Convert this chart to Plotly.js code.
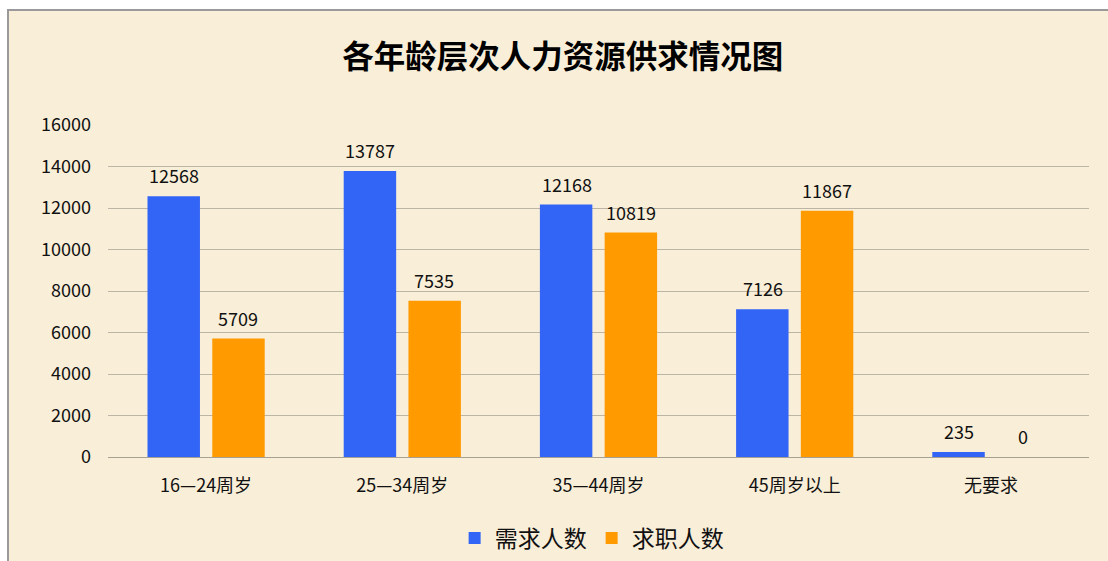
<!DOCTYPE html>
<html><head><meta charset="utf-8">
<script src="https://cdn.plot.ly/plotly-3.0.1.min.js"></script>
<style>
html,body{margin:0;padding:0;background:#fff;width:1108px;height:561px;overflow:hidden;}
#frame{position:absolute;left:7px;top:9px;width:1101px;height:552px;border-top:2px solid #9a9a9a;border-left:2px solid #9a9a9a;background:#f9eed8;}
#chart{width:1101px;height:552px;}
</style></head>
<body><div id="frame"><div id="chart"></div></div>
<script>
const categories = ["16—24周岁", "25—34周岁", "35—44周岁", "45周岁以上", "无要求"];
const demand = [12568, 13787, 12168, 7126, 235];
const supply = [5709, 7535, 10819, 11867, 0];
const seriesNames = ["需求人数", "求职人数"];
const colors = ["#3264f6", "#ff9a00"];
const yTicks = [0, 2000, 4000, 6000, 8000, 10000, 12000, 14000, 16000];

const font = "Noto Sans CJK SC, sans-serif";
const traces = [
  {type:"bar", name:seriesNames[0], x:categories, y:demand, marker:{color:colors[0]}, hoverinfo:"none"},
  {type:"bar", name:seriesNames[1], x:categories, y:supply, marker:{color:colors[1]}, hoverinfo:"none"}
];
const annotations = [];
[demand, supply].forEach((vals, si) => {
  vals.forEach((v, i) => {
    annotations.push({x:categories[i], y:v, xref:"x", yref:"y", text:String(v), showarrow:false,
      yanchor:"bottom", yshift:6, xshift: si === 0 ? -32 : 32,
      font:{family:font, size:18, color:"#111"}});
  });
});
const layout = {
  width:1101, height:552,
  paper_bgcolor:"#f9eed8", plot_bgcolor:"rgba(0,0,0,0)",
  margin:{l:99, r:21, t:114, b:106, autoexpand:false},
  title:{text:"<b>各年龄层次人力资源供求情况图</b>", x:0.503, xanchor:"center", y:0.917, yanchor:"middle",
    font:{family:font, size:31.5, color:"#000"}},
  barmode:"group", bargap:0.34, bargroupgap:0.19,
  xaxis:{type:"category", tickfont:{family:font, size:18, color:"#111"}, showgrid:false, showline:false,
    ticks:"", ticklabelstandoff:16, automargin:false},
  yaxis:{range:[0,16000], tickvals:yTicks, ticktext:yTicks.map(String), showgrid:true, gridcolor:"#bcb4a4", gridwidth:1,
    zeroline:true, zerolinecolor:"#a8a090", zerolinewidth:1, showline:false, ticks:"", automargin:false,
    tickfont:{family:font, size:18, color:"#111"}, ticklabelstandoff:16},
  showlegend:true,
  legend:{orientation:"h", x:0.493, xanchor:"center", yref:"container", y:0.045, yanchor:"middle",
    font:{family:font, size:23, color:"#111"}, bgcolor:"rgba(0,0,0,0)", itemwidth:30},
  annotations:annotations
};
Plotly.newPlot("chart", traces, layout, {displayModeBar:false, staticPlot:true});
</script></body></html>
